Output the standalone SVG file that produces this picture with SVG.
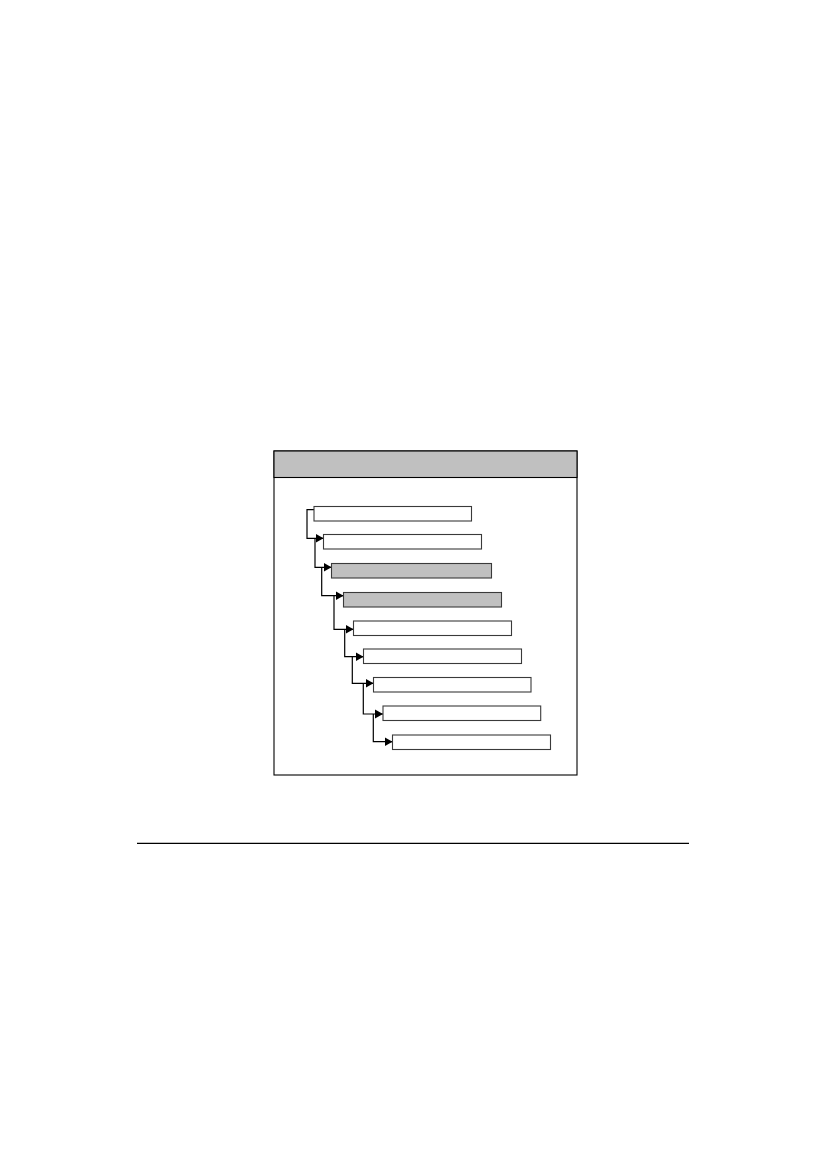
<svg xmlns="http://www.w3.org/2000/svg" width="827" height="1169" viewBox="0 0 827 1169">
<style>
.box{fill:#ffffff;stroke:#3a3a3a;stroke-width:1.1}
.grey{fill:#c0c0c0}
.conn{fill:none;stroke:#000;stroke-width:1.2}
</style>
<defs>
<marker id="arr" markerUnits="userSpaceOnUse" markerWidth="9" markerHeight="10" refX="8" refY="5" orient="auto">
<path d="M0,0.5 L8,5 L0,9.5 Z" fill="#000"/>
</marker>
</defs>
<rect width="827" height="1169" fill="#ffffff"/>
<g id="frame">
<rect x="274" y="451" width="303" height="324" fill="#ffffff" stroke="#000" stroke-width="1.1"/>
<rect x="274" y="451" width="303" height="26.5" fill="#c0c0c0" stroke="#000" stroke-width="1.1"/>
</g>
<g id="connectors">
<path class="conn" d="M314,509.7 H307 V538.3 H323.5" marker-end="url(#arr)"/>
<path class="conn" d="M315,538.3 V567.3 H331.5" marker-end="url(#arr)"/>
<path class="conn" d="M321.7,567.3 V595.7 H343.5" marker-end="url(#arr)"/>
<path class="conn" d="M334,595.7 V629.3 H353.5" marker-end="url(#arr)"/>
<path class="conn" d="M344.7,629.3 V656.7 H363.5" marker-end="url(#arr)"/>
<path class="conn" d="M352.3,656.7 V683.3 H373.5" marker-end="url(#arr)"/>
<path class="conn" d="M363.3,683.3 V714 H383" marker-end="url(#arr)"/>
<path class="conn" d="M373.3,714 V741.7 H392.5" marker-end="url(#arr)"/>
</g>
<g id="n1"><rect class="box" x="314" y="506.5" width="157.5" height="14.5"/></g>
<g id="n2"><rect class="box" x="323.5" y="534.5" width="158" height="14.5"/></g>
<g id="n3"><rect class="box grey" x="331.5" y="563.5" width="160" height="14.5"/></g>
<g id="n4"><rect class="box grey" x="343.5" y="592.5" width="158" height="14.5"/></g>
<g id="n5"><rect class="box" x="353.5" y="621" width="158" height="14.5"/></g>
<g id="n6"><rect class="box" x="363.5" y="649" width="158" height="14.5"/></g>
<g id="n7"><rect class="box" x="373.5" y="677.5" width="157.5" height="14.5"/></g>
<g id="n8"><rect class="box" x="383" y="706" width="157.7" height="14.5"/></g>
<g id="n9"><rect class="box" x="392.5" y="735" width="158" height="14.5"/></g>
<line x1="137" y1="843.3" x2="689" y2="843.3" stroke="#000" stroke-width="1.3"/>
</svg>
